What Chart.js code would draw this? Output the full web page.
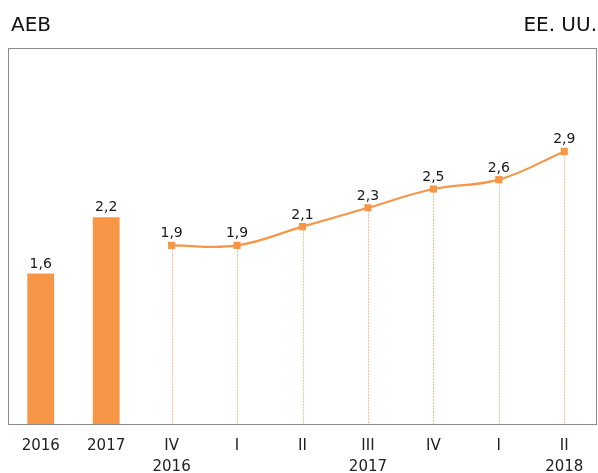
<!DOCTYPE html>
<html>
<head>
<meta charset="utf-8">
<script src="https://cdn.jsdelivr.net/npm/chart.js@4"></script>
<style>
  body { margin: 0; background: #fff; font-family: "DejaVu Sans", Verdana, sans-serif; }
  #wrap { position: relative; width: 598px; height: 473px; }
  .titre { position: absolute; top: 12px; font-size: 20px; line-height: 24px; color: #111; }
  #gauche { left: 11px; }
  #droite { right: 1px; }
</style>
</head>
<body>
<div id="wrap">
  <div class="titre" id="gauche">AEB</div>
  <div class="titre" id="droite">EE. UU.</div>
  <canvas id="graphique" width="598" height="473"></canvas>
</div>
<script>
const categories = [
  "2016", "2017", ["IV", "2016"], "I", "II", ["III", "2017"], "IV", "I", ["II", "2018"]
];
const annuel = [1.6, 2.2, null, null, null, null, null, null, null];
const trimestriel = [null, null, 1.9, 1.9, 2.1, 2.3, 2.5, 2.6, 2.9];

const orange = "#f79646";

// cadre gris + pointillés sous les points
const cadre = {
  id: "cadre",
  beforeDatasetsDraw(chart) {
    const { ctx, chartArea: a } = chart;
    ctx.save();
    ctx.strokeStyle = "#8a8a8a";
    ctx.lineWidth = 1;
    ctx.strokeRect(a.left + 0.5, a.top + 0.5, a.right - a.left - 1, a.bottom - a.top);
    const meta = chart.getDatasetMeta(1);
    ctx.strokeStyle = "rgba(240,170,110,0.75)";
    ctx.setLineDash([2, 1]);
    meta.data.forEach((p, i) => {
      if (trimestriel[i] == null) return;
      ctx.beginPath();
      ctx.moveTo(Math.round(p.x) + 0.5, p.y);
      ctx.lineTo(Math.round(p.x) + 0.5, a.bottom);
      ctx.stroke();
    });
    ctx.restore();
  }
};

// étiquettes des valeurs
const etiquettes = {
  id: "etiquettes",
  afterDatasetsDraw(chart) {
    const { ctx } = chart;
    ctx.save();
    ctx.font = "14px 'DejaVu Sans', sans-serif";
    ctx.fillStyle = "#1a1a1a";
    ctx.textAlign = "center";
    ctx.textBaseline = "alphabetic";
    chart.data.datasets.forEach((ds, d) => {
      chart.getDatasetMeta(d).data.forEach((el, i) => {
        const v = ds.data[i];
        if (v == null) return;
        const txt = v.toFixed(1).replace(".", ",");
        ctx.fillText(txt, el.x, el.y - (d === 0 ? 6 : 8));
      });
    });
    ctx.restore();
  }
};

new Chart(document.getElementById("graphique"), {
  data: {
    labels: categories,
    datasets: [
      {
        type: "bar",
        data: annuel,
        backgroundColor: orange,
        barPercentage: 0.41,
        categoryPercentage: 1
      },
      {
        type: "line",
        data: trimestriel,
        borderColor: orange,
        borderWidth: 2.2,
        backgroundColor: orange,
        pointStyle: "rect",
        pointRadius: 3.5,
        tension: 0.4,
        spanGaps: false
      }
    ]
  },
  options: {
    responsive: false,
    animation: false,
    layout: { autoPadding: false, padding: { left: 8, right: 1, top: 48 } },
    plugins: { legend: { display: false }, tooltip: { enabled: false } },
    scales: {
      x: {
        offset: true,
        grid: { display: false, drawTicks: false },
        border: { display: false },
        ticks: {
          color: "#222",
          font: { family: "'DejaVu Sans', sans-serif", size: 15, lineHeight: 1.4 },
          padding: 12,
          maxRotation: 0,
          autoSkip: false
        },
        afterFit(scale) { scale.height = 49; }
      },
      y: {
        display: false,
        min: 0,
        max: 4
      }
    }
  },
  plugins: [cadre, etiquettes]
});
</script>
</body>
</html>
